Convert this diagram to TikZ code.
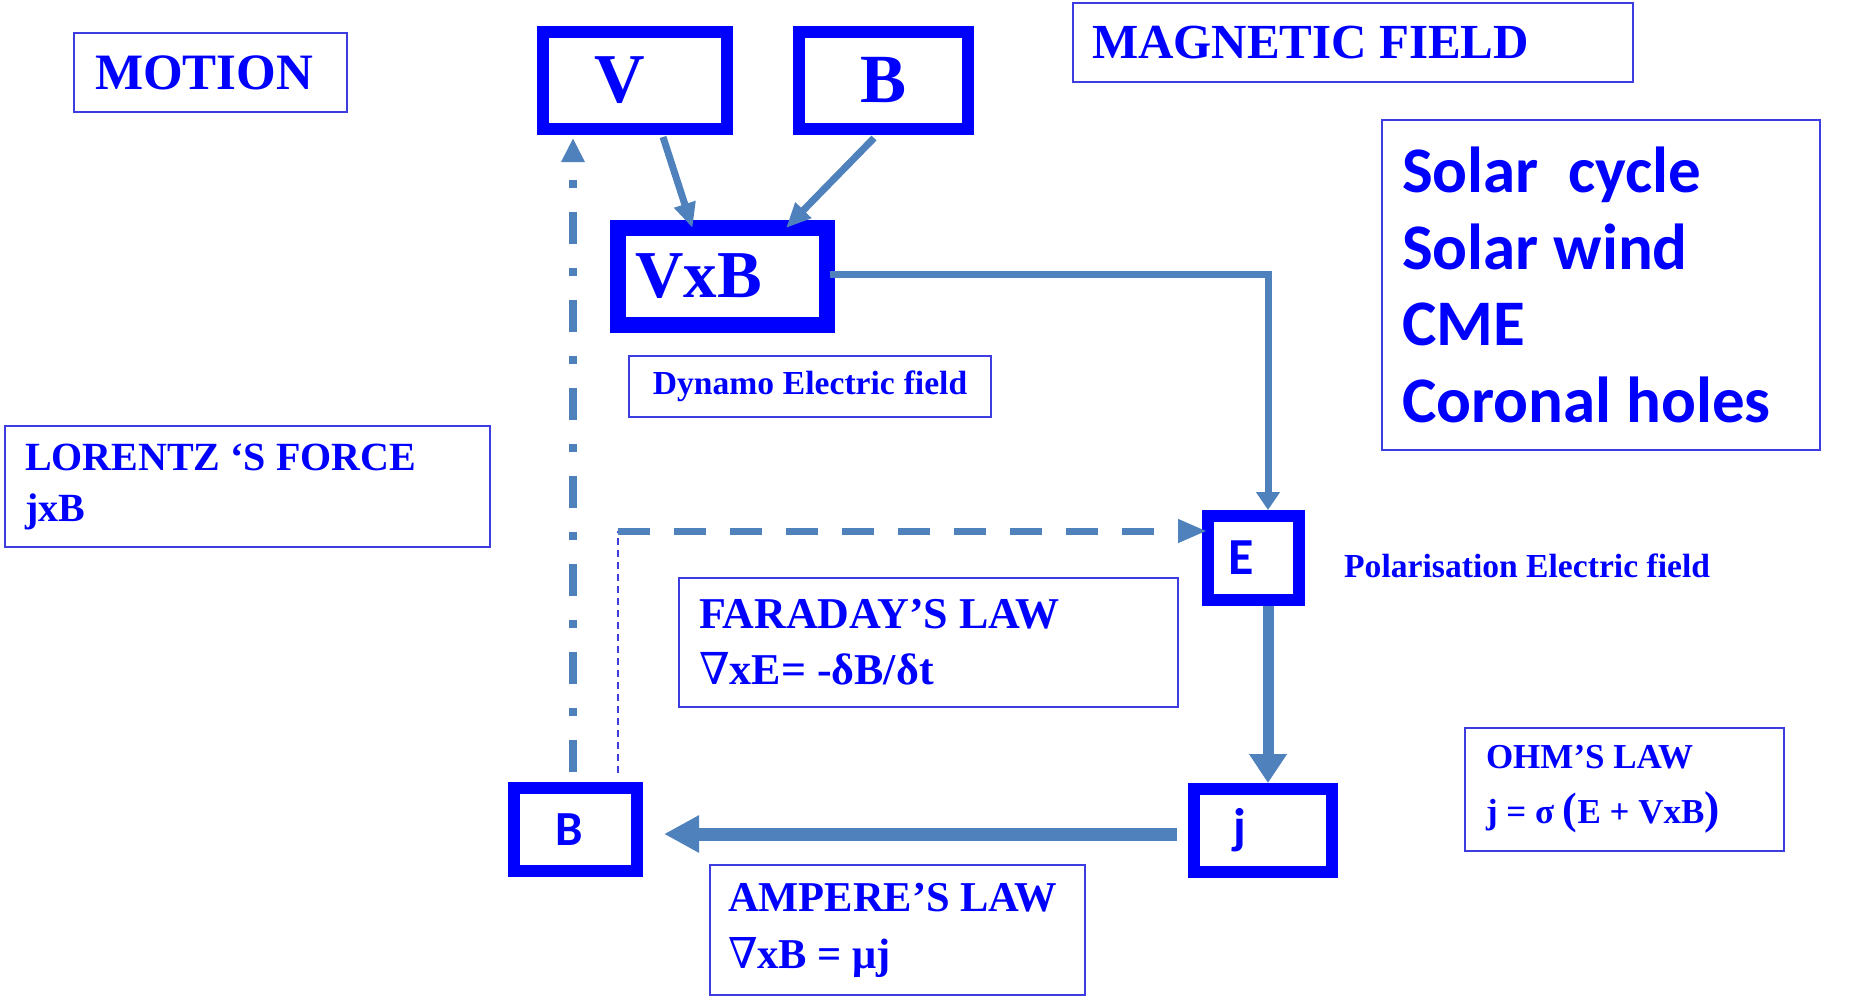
\documentclass[tikz,border=0pt]{standalone}
\usepackage{fontspec}
\setmainfont{Liberation Serif}
\newfontfamily\calib{Carlito}
\newfontfamily\nablafont{DejaVu Serif}
\usetikzlibrary{arrows.meta}

\definecolor{arrowblue}{RGB}{79,129,189}
\definecolor{boxblue}{RGB}{0,0,255}
\definecolor{frameblue}{RGB}{60,60,225}

\newcommand{\nab}{{\nablafont\mdseries ∇}}
\newcommand{\plainsp}{\spaceskip 0pt\xspaceskip 0pt\relax}

\tikzset{
  thickbox/.style={draw=boxblue, line width=12pt, inner sep=0pt, text=boxblue, font=\bfseries},
  thinbox/.style={draw=frameblue, line width=2pt, inner ysep=0pt, text=boxblue, align=left, anchor=north west},
  flow/.style={draw=arrowblue, line width=7pt},
}

\begin{document}
\begin{tikzpicture}[x=1pt,y=-1pt]
\useasboundingbox (0,0) rectangle (1853,996);

\node[thinbox, minimum width=273pt, minimum height=79pt, text width=231pt, inner xsep=21pt, font=\bfseries\fontsize{51}{60}\selectfont] (motion) at (73,32) {MOTION};
\node[thinbox, minimum width=560pt, minimum height=79pt, text width=522pt, inner xsep=19pt, font=\bfseries\fontsize{49}{60}\selectfont] (magfield) at (1072,2) {\plainsp MAGNETIC FIELD};
\node[thinbox, minimum width=438pt, minimum height=330pt, text width=398pt, inner xsep=20pt, font=\calib\bfseries\fontsize{65}{76.5}\selectfont] (solar) at (1381,119) {\plainsp Solar\ \ cycle\\Solar wind\\CME\\Coronal holes};
\node[thinbox, minimum width=485pt, minimum height=121pt, text width=445pt, inner xsep=20pt, font=\bfseries\fontsize{40}{51}\selectfont] (lorentz) at (4,425) {\plainsp LORENTZ ‘S FORCE\\jxB};
\node[thinbox, align=center, minimum width=362pt, minimum height=61pt, text width=330pt, inner xsep=16pt, font=\bfseries\fontsize{33.6}{40}\selectfont] (dynamo) at (628,355) {\plainsp Dynamo Electric field};
\node[thinbox, minimum width=499pt, minimum height=129pt, text width=459pt, inner xsep=20pt, font=\bfseries\fontsize{44}{56}\selectfont] (faraday) at (678,577) {\plainsp FARADAY’S LAW\\\nab xE= -δB/δt};
\node[thinbox, minimum width=375pt, minimum height=130pt, text width=339pt, inner xsep=18pt, font=\bfseries\fontsize{42.5}{57}\selectfont] (ampere) at (709,864) {\plainsp AMPERE’S LAW\\\nab xB = μj};
\node[thinbox, minimum width=319pt, minimum height=123pt, text width=277pt, inner xsep=21pt, font=\bfseries\fontsize{35}{55}\selectfont] (ohm) at (1464,727) {\plainsp OHM’S LAW\\j = σ {\fontsize{44}{44}\selectfont(}E + VxB{\fontsize{46}{46}\selectfont)}};
\node[anchor=base west, inner sep=0pt, text=boxblue, font=\bfseries\fontsize{33.6}{40}\selectfont] (polar) at (1344,577) {Polarisation Electric field};

\node[thickbox, minimum width=184pt, minimum height=97pt] (V) at (635,80.5) {\fontsize{70}{70}\selectfont V\kern30pt};
\node[thickbox, minimum width=169pt, minimum height=97pt] (Btop) at (883.5,80.5) {\fontsize{69}{69}\selectfont B};
\node[thickbox, line width=16pt, minimum width=209pt, minimum height=97pt] (VxB) at (722.5,276.5) {\fontsize{67}{67}\selectfont VxB\kern48pt};
\node[thickbox, minimum width=91pt, minimum height=84pt, font=\calib\bfseries] (E) at (1253.5,558) {\fontsize{52}{52}\selectfont E\kern25pt};
\node[thickbox, minimum width=138pt, minimum height=83pt, font=\calib\bfseries] (j) at (1263,830.5) {\fontsize{50}{50}\selectfont j\kern46pt};
\node[thickbox, minimum width=123pt, minimum height=83pt, font=\calib\bfseries] (Bl) at (575.5,829.5) {\fontsize{49}{49}\selectfont B\kern13pt};

\path ([yshift=27pt]E.west) coordinate (ein);
\path ([xshift=42.5pt,yshift=9pt]Bl.north) coordinate (bout);
\path ([xshift=-2.5pt,yshift=9pt]Bl.north) coordinate (bup);

\draw[flow, -{Triangle[length=25pt,width=21pt]}] ([xshift=28pt,yshift=-2pt]V.south) -- ([xshift=-30pt,yshift=-8pt]VxB.north);
\draw[flow, -{Triangle[length=25pt,width=21pt]}] ([xshift=-9.5pt,yshift=-3pt]Btop.south) -- ([xshift=63.5pt,yshift=-8pt]VxB.north);
\draw[flow, -{Triangle[length=18pt,width=23pt]}] ([xshift=-5pt,yshift=2.5pt]VxB.east) -| ([xshift=14.5pt]E.north);
\draw[flow, line width=11pt, -{Triangle[length=29pt,width=36pt]}] ([xshift=14.5pt]E.south) -- ([xshift=14.5pt]E.south |- j.north);
\draw[flow, line width=13pt, -{Triangle[length=35pt,width=35pt]}] ([xshift=-11pt,yshift=-3.5pt]j.west) -- ([xshift=21pt,yshift=-4.5pt]Bl.east);
\draw[flow, line width=8pt, dash pattern=on 8pt off 24pt on 32pt off 24pt, dash phase=69pt, {Triangle[length=24pt,width=22pt]}-] ([yshift=-3pt]V.south -| bup) -- (bup);
\draw[draw=frameblue, line width=2pt, dash pattern=on 7pt off 5pt] (bout) -- (bout |- ein);
\draw[flow, dash pattern=on 32pt off 24pt, -{Triangle[length=29pt,width=22pt]}] (bout |- ein) -- ([xshift=5pt]ein);
\end{tikzpicture}
\end{document}
